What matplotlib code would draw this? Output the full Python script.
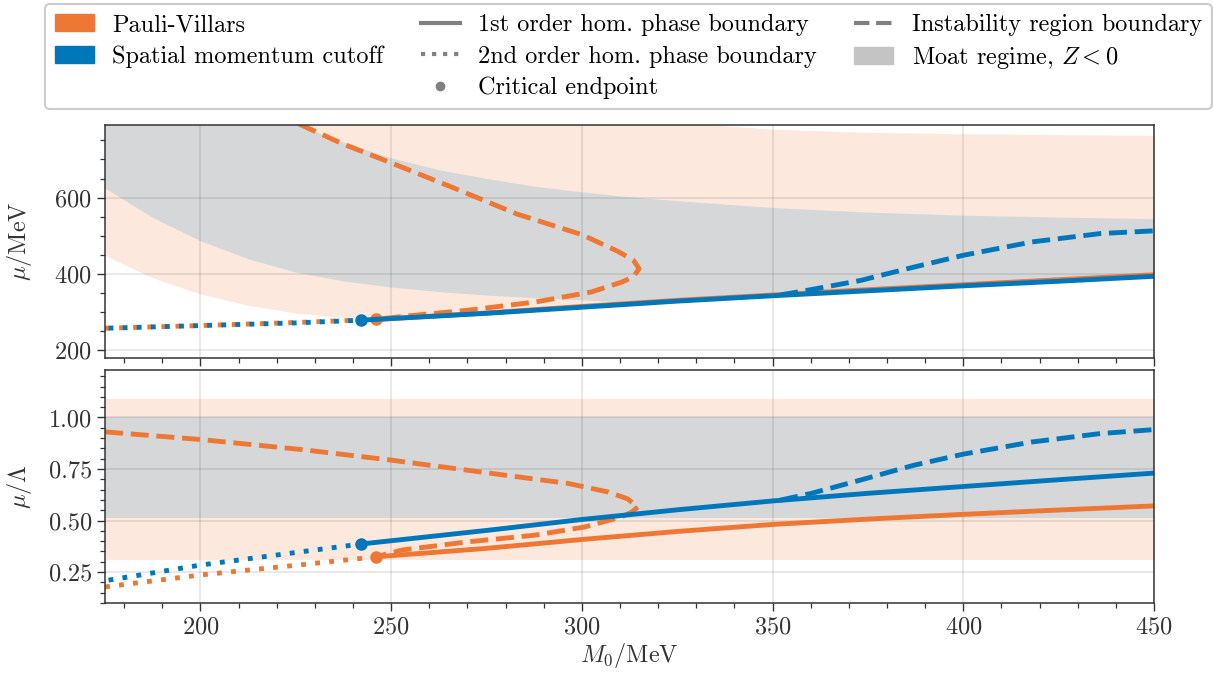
"""
Phase diagram in the (M0, mu) plane for two regularisation schemes:
Pauli-Villars and a spatial momentum cutoff.
"""

import numpy as np
import matplotlib.pyplot as plt
from matplotlib.lines import Line2D
from matplotlib.patches import Patch
from matplotlib.ticker import MultipleLocator

plt.rcParams.update({
    'font.family': 'serif',
    'font.serif': ['cmr10'],
    'mathtext.fontset': 'cm',
    'axes.formatter.use_mathtext': True,
    'font.size': 17.5,
    'axes.unicode_minus': False,
})

ORANGE = '#EE7733'
BLUE = '#0077BB'
MOAT_GREY = '#d6d7d9'
HANDLE_GREY = '#808080'
INK = '#333333'

# ---------------------------------------------------------------------------
# Upper panel: mu in MeV
# ---------------------------------------------------------------------------
# 2nd order boundaries (up to the critical endpoint)
sc_2nd_m0 = [175, 200, 225, 242]
sc_2nd_mu = [258, 265, 272, 279]
pv_2nd_m0 = [175, 200, 225, 246]
pv_2nd_mu = [258, 265, 273, 281]

# 1st order boundaries
sc_1st_m0 = [242, 275, 300, 325, 350, 375, 400, 425, 450]
sc_1st_mu = [279, 297, 313, 329, 343, 356, 369, 381, 394]
pv_1st_m0 = [246, 275, 300, 325, 350, 375, 400, 425, 450]
pv_1st_mu = [281, 298, 315, 331, 345, 359, 372, 385, 398]

# instability region boundaries
sc_inst_m0 = [352, 360, 373, 387, 400, 418, 436, 450]
sc_inst_mu = [345, 359, 383, 418, 449, 484, 506, 513]
pv_inst_m0 = [220, 226, 237, 250, 266, 283, 300, 309.5, 313.5, 315,
              313.5, 310.5, 302.5, 288, 270, 253, 246]
pv_inst_mu = [825, 792, 742, 691, 627, 557, 503, 459, 436, 414,
              393, 379, 353, 327, 305, 289, 281]

# moat regime bands
band_m0 = [175, 187.5, 200, 212.5, 225, 237.5, 250, 262.5, 275, 287.5,
           300, 312.5, 325, 350, 375, 400, 425, 450]
sc_moat_lo = [625, 548, 487, 440, 405, 382, 366, 354, 345, 338,
              332, 326, 321, 312, 303, 296, 288, 280]
sc_moat_hi = [1000, 930, 870, 830, 792, 745, 704, 673, 650, 630,
              615, 602, 592, 574, 562, 554, 549, 545]
pv_moat_lo = [449, 390, 348, 318, 298, 286, 279, 274, 270, 265,
              260, 255, 250, 242, 235, 229, 223, 218]
pv_moat_hi = [1500, 1350, 1230, 1130, 1050, 990, 940, 900, 870, 845,
              825, 808, 797, 779, 771, 767, 765, 763]

# ---------------------------------------------------------------------------
# Lower panel: mu / Lambda
# ---------------------------------------------------------------------------
sc_2nd_r = [0.208, 0.284, 0.345, 0.386]
pv_2nd_r = [0.178, 0.236, 0.283, 0.324]

sc_1st_r = [0.386, 0.452, 0.505, 0.552, 0.595, 0.632, 0.665, 0.698, 0.730]
pv_1st_r = [0.324, 0.365, 0.408, 0.447, 0.481, 0.507, 0.530, 0.551, 0.571]

sc_inst_r = [0.599, 0.631, 0.696, 0.768, 0.822, 0.881, 0.922, 0.941]
pv_inst_r_m0 = [175, 200, 226.7, 250, 279, 296.4, 307, 312, 314.7,
                313, 310.4, 300.8, 287.7, 270.3, 252.9, 246]
pv_inst_r = [0.930, 0.893, 0.844, 0.793, 0.722, 0.680, 0.638, 0.605, 0.566,
             0.540, 0.518, 0.469, 0.429, 0.397, 0.357, 0.324]

sc_moat_r = (0.51, 1.0)
pv_moat_r = (0.31, 1.09)

LW = 3.5
DOT_PERIOD = 2.9   # dot + gap, in units of the line width


def phase_line(m0_2nd, mu_2nd, m0_1st, mu_1st, grid):
    """Phase boundary (2nd + 1st order) evaluated on the band grid."""
    m0 = np.concatenate([m0_2nd, m0_1st[1:]])
    mu = np.concatenate([mu_2nd, mu_1st[1:]])
    return np.interp(grid, m0, mu)


def draw_lines(ax, color, m0_2nd, y_2nd, m0_1st, y_1st, m0_inst, y_inst, z,
               dot_offset=0.0):
    ax.plot(m0_2nd, y_2nd, color=color, lw=LW,
            linestyle=(dot_offset, (1, DOT_PERIOD - 1)), zorder=z)
    ax.plot(m0_1st, y_1st, color=color, lw=LW, solid_capstyle='butt', zorder=z)
    ax.plot(m0_inst, y_inst, color=color, lw=LW, linestyle='--', zorder=z)
    ax.plot(m0_1st[0], y_1st[0], 'o', color=color, ms=8, zorder=z + 0.1)


fig = plt.figure(figsize=(12.13, 6.73), dpi=100)
ax_top = fig.add_axes([0.0866, 0.468, 0.8648, 0.3462])
ax_bot = fig.add_axes([0.0866, 0.104, 0.8648, 0.3462], sharex=ax_top)

# --- moat bands ---
grid = np.array(band_m0)
pv_floor = phase_line(pv_2nd_m0, pv_2nd_mu, pv_1st_m0, pv_1st_mu, grid)
sc_floor = phase_line(sc_2nd_m0, sc_2nd_mu, sc_1st_m0, sc_1st_mu, grid)
ax_top.fill_between(grid, np.maximum(pv_moat_lo, pv_floor), pv_moat_hi,
                    color=ORANGE, alpha=0.17, lw=0, zorder=1)
ax_top.fill_between(grid, np.maximum(sc_moat_lo, sc_floor), sc_moat_hi,
                    color=MOAT_GREY, lw=0, zorder=1.1)

ax_bot.axhspan(*pv_moat_r, color=ORANGE, alpha=0.17, lw=0, zorder=1)
ax_bot.axhspan(*sc_moat_r, color=MOAT_GREY, lw=0, zorder=1.1)

# --- boundaries (blue dots shifted half a period so both colours show) ---
half = DOT_PERIOD / 2 * LW
draw_lines(ax_top, ORANGE, pv_2nd_m0, pv_2nd_mu, pv_1st_m0, pv_1st_mu,
           pv_inst_m0, pv_inst_mu, 2)
draw_lines(ax_top, BLUE, sc_2nd_m0, sc_2nd_mu, sc_1st_m0, sc_1st_mu,
           sc_inst_m0, sc_inst_mu, 2.2, dot_offset=half)
draw_lines(ax_bot, ORANGE, pv_2nd_m0, pv_2nd_r, pv_1st_m0, pv_1st_r,
           pv_inst_r_m0, pv_inst_r, 2)
draw_lines(ax_bot, BLUE, sc_2nd_m0, sc_2nd_r, sc_1st_m0, sc_1st_r,
           sc_inst_m0, sc_inst_r, 2.2, dot_offset=half)

# --- axes styling ---
ax_top.set_xlim(175, 450)
ax_top.set_ylim(180, 790)
ax_bot.set_ylim(0.10, 1.23)

ax_top.yaxis.set_major_locator(MultipleLocator(200))
ax_top.yaxis.set_minor_locator(MultipleLocator(50))
ax_bot.yaxis.set_major_locator(MultipleLocator(0.25))
ax_bot.yaxis.set_minor_locator(MultipleLocator(0.05))
ax_bot.xaxis.set_major_locator(MultipleLocator(50))
ax_bot.xaxis.set_minor_locator(MultipleLocator(10))
ax_bot.yaxis.set_major_formatter(plt.FormatStrFormatter('%.2f'))

for ax in (ax_top, ax_bot):
    ax.set_axisbelow('line')
    ax.grid(True, which='major', color='k', alpha=0.1, lw=1.2)
    ax.tick_params(which='major', direction='out', length=6, width=1,
                   color=INK, labelcolor=INK, labelsize=17.5)
    ax.tick_params(which='minor', direction='out', length=3.5, width=0.9,
                   color=INK)
    for sp in ax.spines.values():
        sp.set_color(INK)
        sp.set_linewidth(1.1)

ax_top.tick_params(labelbottom=False)
ax_top.set_ylabel(r'$\mu/\mathrm{MeV}$', color=INK)
ax_bot.set_ylabel(r'$\mu/\Lambda$', color=INK)
ax_bot.set_xlabel(r'$M_0/\mathrm{MeV}$', color=INK, labelpad=2)
ax_top.yaxis.set_label_coords(-0.068, 0.5)
ax_bot.yaxis.set_label_coords(-0.068, 0.5)

# --- legend ---
handles = [
    Patch(color=ORANGE),
    Patch(color=BLUE),
    Line2D([], [], alpha=0),
    Line2D([], [], color=HANDLE_GREY, lw=3),
    Line2D([], [], color=HANDLE_GREY, lw=3, linestyle=':'),
    Line2D([], [], color=HANDLE_GREY, marker='o', ms=6, lw=0),
    Line2D([], [], color=HANDLE_GREY, lw=3, linestyle='--'),
    Patch(color='#c4c4c4'),
]
labels = [
    'Pauli-Villars',
    'Spatial momentum cutoff',
    '',
    '1st order hom. phase boundary',
    '2nd order hom. phase boundary',
    'Critical endpoint',
    'Instability region boundary',
    r'Moat regime, $Z<0$',
]
leg = fig.legend(handles, labels, loc='upper center', ncol=3,
                 bbox_to_anchor=(0.518, 0.9935), borderaxespad=0,
                 fontsize=17.5, handlelength=1.6, handletextpad=0.75,
                 columnspacing=1.55, labelspacing=0.38, borderpad=0.4,
                 frameon=True, fancybox=True, framealpha=1)
leg.get_frame().set_edgecolor('#cccccc')
leg.get_frame().set_linewidth(1.5)

fig.savefig('out.png', dpi=100)
